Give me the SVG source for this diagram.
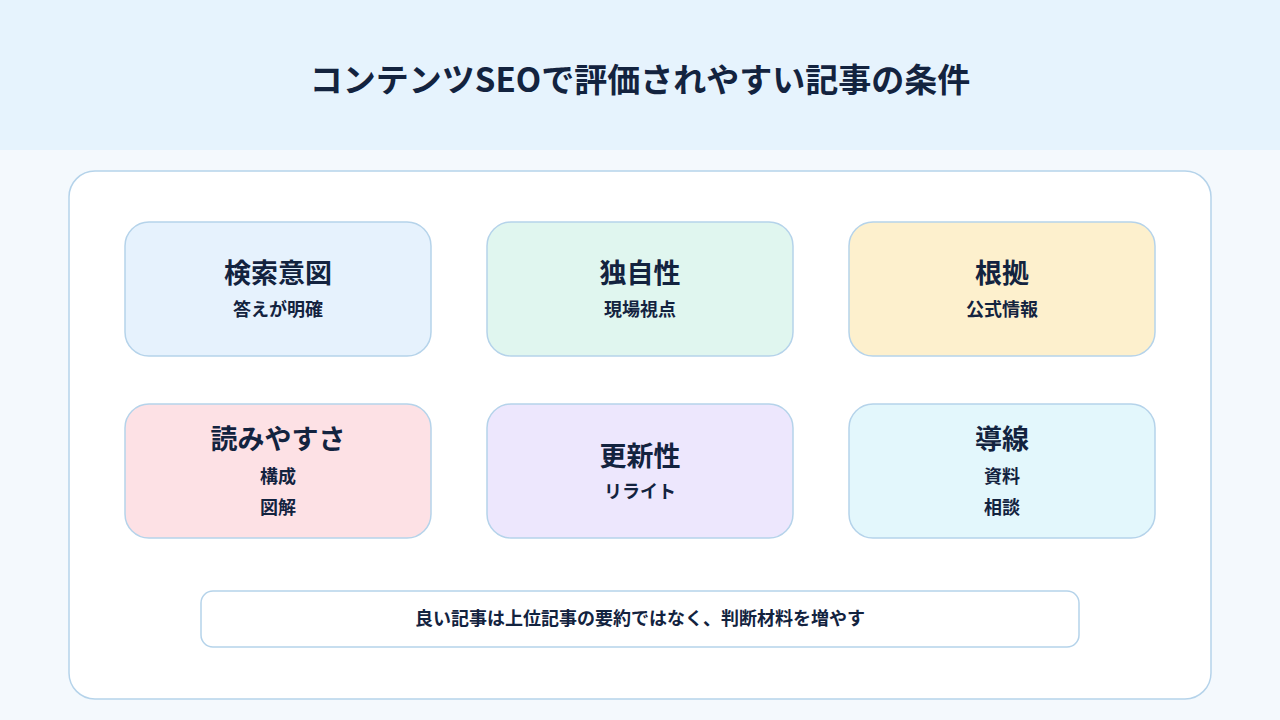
<svg xmlns="http://www.w3.org/2000/svg" width="1280" height="720" viewBox="0 0 1280 720">
<style>
text{font-family:"Noto Sans CJK JP","Noto Sans",sans-serif;fill:#13233f;text-anchor:middle;font-weight:700}
.t{font-size:27px}.s{font-size:18px}
.card{stroke:#b5d3ea;stroke-width:1.5}
</style>
<rect width="1280" height="720" fill="#f4f9fd"/>
<rect width="1280" height="150" fill="#e6f3fd"/>
<text x="640" y="92" font-size="33">コンテンツSEOで評価されやすい記事の条件</text>
<rect x="69" y="171" width="1142" height="528" rx="26" fill="#fff" stroke="#b5d3ea" stroke-width="1.5"/>
<g id="n1"><rect class="card" x="125" y="222" width="306" height="134" rx="24" fill="#e6f2fd"/><text class="t" x="278" y="283">検索意図</text><text class="s" x="278" y="316">答えが明確</text></g>
<g id="n2"><rect class="card" x="487" y="222" width="306" height="134" rx="24" fill="#e0f6ef"/><text class="t" x="640" y="283">独自性</text><text class="s" x="640" y="316">現場視点</text></g>
<g id="n3"><rect class="card" x="849" y="222" width="306" height="134" rx="24" fill="#fdf0cd"/><text class="t" x="1002" y="283">根拠</text><text class="s" x="1002" y="316">公式情報</text></g>
<g id="n4"><rect class="card" x="125" y="404" width="306" height="134" rx="24" fill="#fde1e5"/><text class="t" x="278" y="449">読みやすさ</text><text class="s" x="278" y="483">構成</text><text class="s" x="278" y="514">図解</text></g>
<g id="n5"><rect class="card" x="487" y="404" width="306" height="134" rx="24" fill="#ede7fd"/><text class="t" x="640" y="466">更新性</text><text class="s" x="640" y="498">リライト</text></g>
<g id="n6"><rect class="card" x="849" y="404" width="306" height="134" rx="24" fill="#e3f7fc"/><text class="t" x="1002" y="449">導線</text><text class="s" x="1002" y="483">資料</text><text class="s" x="1002" y="514">相談</text></g>
<g id="note"><rect class="card" x="201" y="591" width="878" height="56" rx="12" fill="#fff"/><text class="s" x="640" y="625">良い記事は上位記事の要約ではなく、判断材料を増やす</text></g>
<g id="connectors"/>
</svg>
